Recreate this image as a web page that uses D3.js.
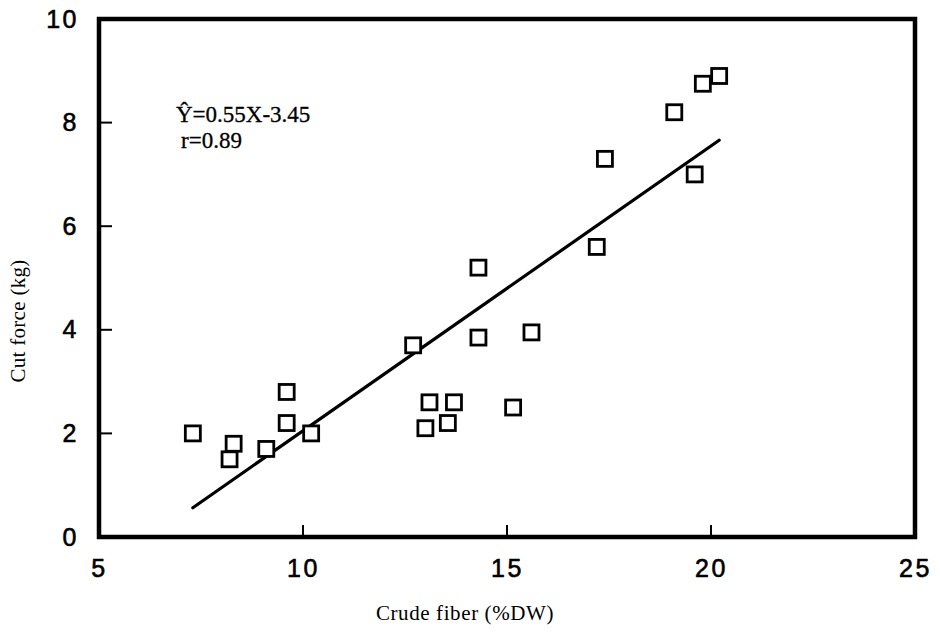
<!DOCTYPE html>
<html>
<head>
<meta charset="utf-8">
<script src="https://cdn.jsdelivr.net/npm/d3@7"></script>
<style>
  html, body { margin: 0; padding: 0; background: #fff; }
  svg { display: block; }
</style>
</head>
<body>
<svg width="940" height="635"></svg>
<script>
// crude fiber (%DW) vs cut force (kg)
var fiber = [7.3, 8.3, 8.2, 9.1, 9.6, 9.6, 10.2, 12.7, 13.0, 13.1, 13.55, 13.7,
             14.3, 14.3, 15.15, 15.6, 17.2, 17.4, 19.1, 19.6, 19.8, 20.2];
var cutForce = [2.0, 1.8, 1.5, 1.7, 2.8, 2.2, 2.0, 3.7, 2.1, 2.6, 2.2, 2.6,
                3.85, 5.2, 2.5, 3.95, 5.6, 7.3, 8.2, 7.0, 8.75, 8.9];

var xTicks = [5, 10, 15, 20, 25];
var yTicks = [0, 2, 4, 6, 8, 10];
var xMarks = [10, 15, 20];
var yMarks = [2, 4, 6, 8];

// fitted line Y = 0.55X - 3.45, drawn over the range of the data
var slope = 0.55, intercept = -3.45, r = 0.89;
var fitRange = [7.3, 20.2];

var svg = d3.select("svg");
// note: "top" is taken by window.top, hence the plot* names
var plotLeft = 99, plotRight = 915, plotTop = 19, plotBottom = 537;

var x = d3.scaleLinear().domain([5, 25]).range([plotLeft, plotRight]);
var y = d3.scaleLinear().domain([0, 10]).range([plotBottom, plotTop]);

var tickFont = "'Liberation Sans', Arial, sans-serif";
var serif = "'Liberation Serif', 'Times New Roman', serif";

// tick labels (all values) with inward marks drawn separately
var yAxis = svg.append("g")
    .attr("transform", "translate(" + plotLeft + ",0)")
    .call(d3.axisLeft(y).tickValues(yTicks).tickSize(0).tickPadding(20).tickFormat(d3.format("d")));
var xAxis = svg.append("g")
    .attr("transform", "translate(0," + plotBottom + ")")
    .call(d3.axisBottom(x).tickValues(xTicks).tickSize(0).tickPadding(22).tickFormat(d3.format("d")));

[yAxis, xAxis].forEach(function (a) {
    a.select(".domain").remove();
    a.selectAll("text")
        .attr("font-family", tickFont)
        .attr("font-size", 25)
        .attr("letter-spacing", 2.5)
        .attr("fill", "#000")
        .attr("stroke", "#000")
        .attr("stroke-width", 0.6);
});

svg.append("g").selectAll("line")
    .data(yMarks)
  .enter().append("line")
    .attr("x1", plotLeft).attr("x2", plotLeft + 13)
    .attr("y1", function (d) { return y(d); })
    .attr("y2", function (d) { return y(d); })
    .attr("stroke", "#000").attr("stroke-width", 2);

svg.append("g").selectAll("line")
    .data(xMarks)
  .enter().append("line")
    .attr("y1", plotBottom).attr("y2", plotBottom - 12)
    .attr("x1", function (d) { return x(d); })
    .attr("x2", function (d) { return x(d); })
    .attr("stroke", "#000").attr("stroke-width", 2);

// frame
svg.append("rect")
    .attr("x", plotLeft).attr("y", plotTop)
    .attr("width", plotRight - plotLeft).attr("height", plotBottom - plotTop)
    .attr("fill", "none").attr("stroke", "#000").attr("stroke-width", 4.5);

// regression line
var line = d3.line()
    .x(function (d) { return x(d); })
    .y(function (d) { return y(slope * d + intercept); });
svg.append("path")
    .datum(fitRange)
    .attr("d", line)
    .attr("fill", "none").attr("stroke", "#000").attr("stroke-width", 3.2)
    .attr("stroke-linecap", "round");

// open squares
var size = 15;
svg.append("g").selectAll("rect")
    .data(d3.range(fiber.length))
  .enter().append("rect")
    .attr("x", function (i) { return x(fiber[i]) - size / 2; })
    .attr("y", function (i) { return y(cutForce[i]) - size / 2; })
    .attr("width", size).attr("height", size)
    .attr("fill", "#fff").attr("stroke", "#000").attr("stroke-width", 2.8);

// equation
svg.append("text")
    .attr("x", 176).attr("y", 122)
    .attr("font-family", serif).attr("font-size", 23)
    .attr("stroke", "#000").attr("stroke-width", 0.3)
    .text("\u0176=" + slope + "X" + intercept);
svg.append("text")
    .attr("x", 181).attr("y", 148)
    .attr("font-family", serif).attr("font-size", 23)
    .attr("stroke", "#000").attr("stroke-width", 0.3)
    .text("r=" + r);

// axis titles
svg.append("text")
    .attr("x", 465).attr("y", 620)
    .attr("text-anchor", "middle")
    .attr("font-family", serif).attr("font-size", 21)
    .attr("letter-spacing", 0.6)
    .text("Crude fiber (%DW)");
svg.append("text")
    .attr("transform", "translate(25,321) rotate(-90)")
    .attr("text-anchor", "middle")
    .attr("font-family", serif).attr("font-size", 21)
    .attr("letter-spacing", 0.3)
    .text("Cut force (kg)");
</script>
</body>
</html>
